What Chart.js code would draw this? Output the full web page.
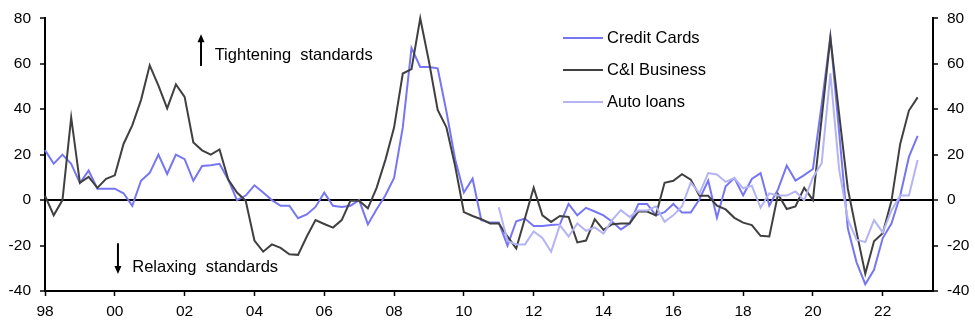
<!DOCTYPE html>
<html>
<head>
<meta charset="utf-8">
<script src="https://cdn.jsdelivr.net/npm/chart.js@4.4.1/dist/chart.umd.min.js"></script>
<style>
  html, body { margin: 0; padding: 0; background: #fff; }
  #wrap { width: 975px; height: 326px; position: relative; }
</style>
</head>
<body>
<div id="wrap"><canvas id="chart"></canvas></div>
<script>
// Senior loan officer survey: net % of banks tightening standards (quarterly)
const startYear = 1998;      // first quarter of credit cards / C&I series
const autoStartYear = 2011;  // auto loans series begins later

const creditCards = [
    22, 16, 20, 16, 7.5, 13, 5, 5, 5, 3,
    -2.5, 8.5, 12, 20, 11.5, 20, 18, 8.5, 15, 15.3,
    16, 9, 0, 2, 6.5, 3.3, 0, -2.5, -2.5, -8,
    -6.3, -3, 3.3, -2.5, -3, -2.5, 0, -10.7, -4, 2,
    9.7, 32, 67, 58.6, 58.6, 58, 39, 18, 3.3, 9.4,
    -8.8, -9.9, -9.9, -20, -9.3, -8.1, -11.4, -11.4, -11, -10.7,
    -1.7, -6.7, -3.4, -5, -6.7, -9.5, -12.9, -10.3, -1.7, -1.7,
    -6.7, -5.3, -1.7, -5.5, -5.5, 0.4, 8.6, -7.8, 6.1, 9.7,
    2.1, 9.3, 11.9, -2.4, 4.7, 15.2, 8.6, 11, 13.7, 42,
    72, 30, -12.4, -27.4, -37, -30.7, -16.7, -10.3, 1.9, 19, 28.3
];

const ciBusiness = [
    1.9, -6.7, 0, 36.4, 7.6, 10.2, 5.4, 9.4, 10.9, 24.7,
    32.9, 44, 59.3, 50.4, 40.4, 50.9, 45.4, 25.4, 21.9, 20,
    22.3, 9, 3.3, -0.3, -17.8, -22.7, -19.5, -21, -23.8, -24.1,
    -16, -8.8, -10.5, -12.1, -8.8, -0.3, -0.3, -3.6, 5.4, 17.6,
    31.9, 55.7, 57.6, 80, 61, 39.7, 32, 15, -5.3, -7,
    -8.4, -10.3, -10.3, -16, -21.3, -8, 5.4, -6.7, -9.6, -7,
    -7.4, -18.6, -17.8, -8.4, -13.1, -10.6, -10.3, -10.3, -5, -5,
    -6.7, 7.6, 8.5, 11.4, 9, 1.9, 1.9, -2.4, -4.1, -7.8,
    -9.9, -11, -15.7, -16, 2.6, -3.9, -2.8, 5.4, 0, 36,
    71.5, 38, 5, -14, -32.4, -18.1, -14.6, -0.3, 24.7, 39.4, 45.2
];

const autoLoans = [
    -3.2, -18, -19.5, -19.5, -13.8, -16.7, -22.7, -11,
    -16, -10.3, -13.5, -12, -14.7, -8.7, -4.4, -7.4, -4.6, -4.6,
    -2.7, -9.5, -6.7, -2.7, 7.7, 3, 11.9, 11.3, 8, 9.7,
    5.2, 6.3, -3.4, 3, 2, 2, 3.8, 0, 10, 16.2,
    55.8, 13.6, -8.5, -17.4, -18.5, -8.8, -14.2, -4.6, 2, 2, 17.6
];

const seriesNames = ['Credit Cards', 'C&I Business', 'Auto loans'];
const seriesColors = ['#7676f4', '#404040', '#b4b4f5'];
const yTicks = [-40, -20, 0, 20, 40, 60, 80];
const xTickYears = [1998, 2000, 2002, 2004, 2006, 2008, 2010, 2012, 2014, 2016, 2018, 2020, 2022];

function toPoints(values, firstYear) {
    return values.map((v, i) => ({ x: firstYear + i / 4, y: v }));
}

const FONT = '"Liberation Sans", Arial, sans-serif';
Chart.defaults.font.family = FONT;
Chart.defaults.font.size = 15;
Chart.defaults.color = '#000';

// anotaciones, flechas y leyenda dibujadas a mano
const extras = {
    id: 'extras',
    afterDatasetsDraw(chart) {
        const ctx = chart.ctx;
        const xs = chart.scales.x, ys = chart.scales.y;
        ctx.save();
        ctx.fillStyle = '#000';
        ctx.strokeStyle = '#000';
        ctx.font = '16.5px ' + FONT;
        ctx.textBaseline = 'middle';
        ctx.textAlign = 'left';

        function arrow(xv, y0v, y1v) {
            const x = xs.getPixelForValue(xv);
            const y0 = ys.getPixelForValue(y0v);
            const y1 = ys.getPixelForValue(y1v);
            const dir = y1 < y0 ? -1 : 1;
            ctx.lineWidth = 2;
            ctx.beginPath();
            ctx.moveTo(x, y0);
            ctx.lineTo(x, y1 - dir * 7);
            ctx.stroke();
            ctx.beginPath();
            ctx.moveTo(x, y1);
            ctx.lineTo(x - 3.5, y1 - dir * 8);
            ctx.lineTo(x + 3.5, y1 - dir * 8);
            ctx.closePath();
            ctx.fill();
        }

        arrow(2002.47, 59, 73);
        ctx.fillText('Tightening  standards', xs.getPixelForValue(2002.86), ys.getPixelForValue(63.8));
        arrow(2000.09, -19, -32.5);
        ctx.fillText('Relaxing  standards', xs.getPixelForValue(2000.5), ys.getPixelForValue(-29.6));

        // leyenda
        const lx = 563, ly = 38, step = 32;
        seriesNames.forEach((name, i) => {
            const y = ly + i * step;
            ctx.strokeStyle = seriesColors[i];
            ctx.lineWidth = 2;
            ctx.beginPath();
            ctx.moveTo(lx, y);
            ctx.lineTo(lx + 40, y);
            ctx.stroke();
            ctx.fillStyle = '#000';
            ctx.fillText(name, lx + 44, y);
        });
        ctx.restore();
    }
};

function yAxis(position) {
    return {
        type: 'linear',
        position: position,
        min: -40,
        max: 80,
        afterBuildTicks: s => { s.ticks = yTicks.map(v => ({ value: v })); },
        afterFit: s => { s.width = position === 'left' ? 45 : 42; },
        ticks: { padding: 9, font: { size: 15.5 } },
        border: { display: true, color: '#000', width: 2 },
        grid: {
            drawOnChartArea: position === 'left',
            color: c => (c.tick && c.tick.value === 0 ? '#000' : 'rgba(0,0,0,0)'),
            lineWidth: c => (c.tick && c.tick.value === 0 ? 2 : 0),
            tickColor: '#000',
            tickWidth: 1.5,
            tickLength: 5
        }
    };
}

const ctx = document.getElementById('chart').getContext('2d');
const chart = new Chart(ctx, {
    type: 'line',
    data: {
        datasets: [
            { label: seriesNames[0], data: toPoints(creditCards, startYear), borderColor: seriesColors[0] },
            { label: seriesNames[1], data: toPoints(ciBusiness, startYear), borderColor: seriesColors[1] },
            { label: seriesNames[2], data: toPoints(autoLoans, autoStartYear), borderColor: seriesColors[2] }
        ].map(d => Object.assign(d, {
            borderWidth: 2,
            pointRadius: 0,
            tension: 0,
            fill: false,
            clip: false,
            yAxisID: 'y'
        })).reverse()
    },
    options: {
        responsive: true,
        maintainAspectRatio: false,
        animation: false,
        layout: { padding: { top: 11, left: 0, right: 0, bottom: 0 } },
        plugins: {
            legend: { display: false },
            tooltip: { enabled: false }
        },
        scales: {
            x: {
                type: 'linear',
                min: 1998,
                max: 2023.44,
                afterBuildTicks: s => { s.ticks = xTickYears.map(v => ({ value: v })); },
                afterFit: s => { s.height = 35; },
                ticks: {
                    padding: 6,
                    maxRotation: 0,
                    autoSkip: false,
                    font: { size: 15.5 },
                    callback: v => String(v).slice(2)
                },
                border: { display: true, color: '#000', width: 2 },
                grid: {
                    drawOnChartArea: false,
                    tickColor: '#000',
                    tickWidth: 1.5,
                    tickLength: 5
                }
            },
            y: yAxis('left'),
            y2: yAxis('right')
        }
    },
    plugins: [extras]
});
</script>
</body>
</html>
